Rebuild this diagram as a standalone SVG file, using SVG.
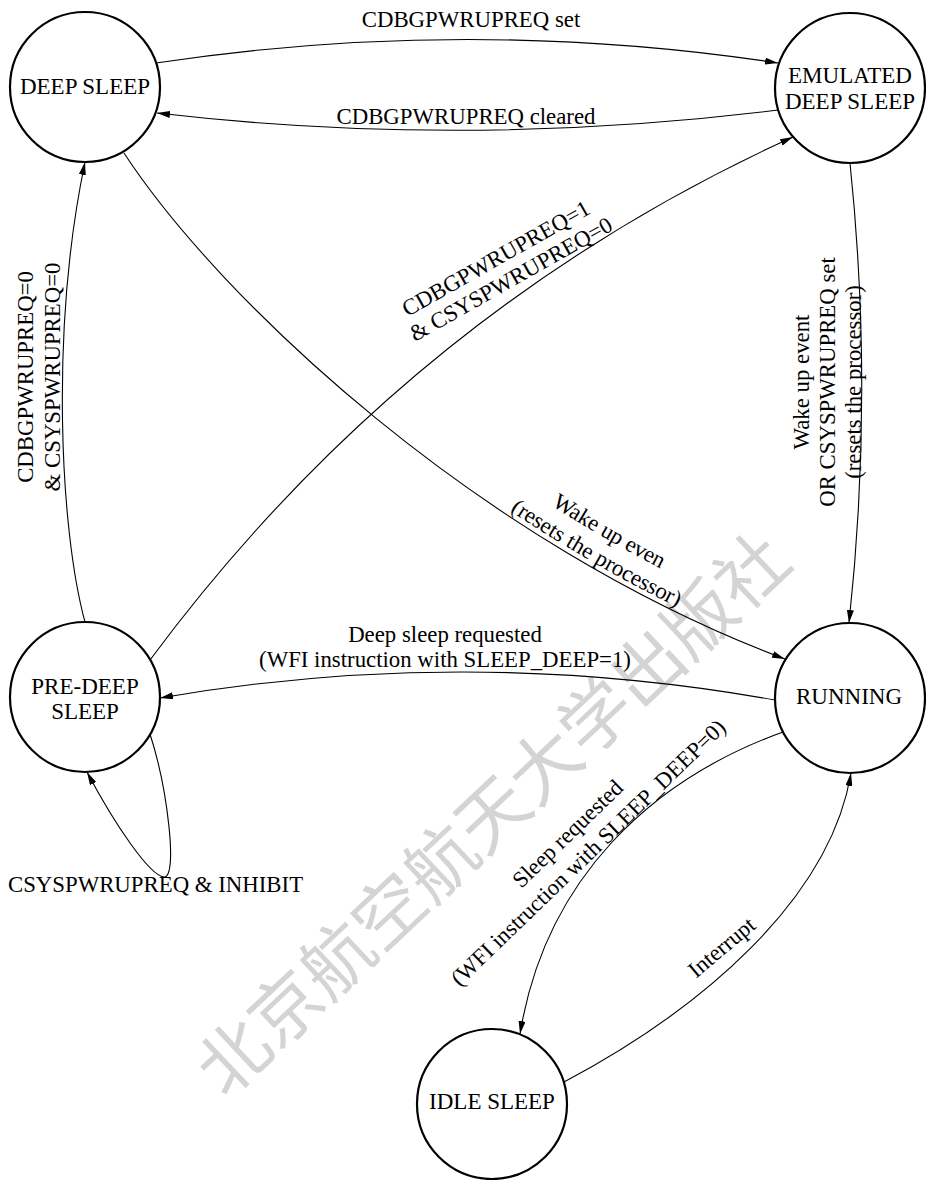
<svg xmlns="http://www.w3.org/2000/svg" xmlns:xlink="http://www.w3.org/1999/xlink" width="926" height="1180" viewBox="0 0 926 1180">
<style>
  .bg { fill: #ffffff; }
  .node circle { fill: #ffffff; stroke: #000000; stroke-width: 2.2; }
  .edge { fill: none; stroke: #000000; stroke-width: 1.1; marker-end: url(#arr); }
  text { font-family: "Liberation Serif", "Times New Roman", serif; fill: #000000; }
  .n { font-size: 23px; text-anchor: middle; }
  .e { font-size: 22.8px; text-anchor: middle; }
  .wm { font-family: "Noto Sans CJK SC", sans-serif; font-weight: 400; font-size: 71px; fill: #d4d4d4; text-anchor: middle; dominant-baseline: central; }
</style>
<defs>
  <marker id="arr" viewBox="0 0 13 7" refX="13" refY="3.5" markerWidth="13" markerHeight="7" orient="auto" markerUnits="userSpaceOnUse">
    <path d="M0,0 L13,3.5 L0,7 z" fill="#000000"/>
  </marker>
</defs>
<rect class="bg" x="0" y="0" width="926" height="1180"/>

<g id="watermark">
  <text class="wm" x="489" y="810" transform="rotate(-43.2 489 810)">北京航空航天大学出版社</text>
</g>

<g id="connectors">
  <path id="eDE" class="edge" d="M156,63 Q468,16 778,63"/>
  <path id="eED" class="edge" d="M778,110 Q466,149 157,113"/>
  <path id="ePD" class="edge" d="M85,622 C60,530 50,330 85,162"/>
  <path id="ePE" class="edge" d="M150,660 Q408,312 793,137"/>
  <path id="eDR" class="edge" d="M124,153 C220,300 480,545 785,659"/>
  <path id="eER" class="edge" d="M850,163 Q874,393 849,623"/>
  <path id="eRP" class="edge" d="M775,700 Q467,645 160,698"/>
  <path id="ePP" class="edge" d="M150,734 C168,790 178,878 164,877 C150,876 115,825 87,772"/>
  <path id="eRI" class="edge" d="M783,732 C650,780 545,880 520,1034"/>
  <path id="eIR" class="edge" d="M564,1082 C700,1010 830,900 851,773"/>
</g>

<g id="edge-labels">
  <text class="e" x="471" y="27">CDBGPWRUPREQ set</text>
  <text class="e" x="466" y="124">CDBGPWRUPREQ cleared</text>
  <g transform="rotate(-90)">
    <text class="e" x="-377" y="33">CDBGPWRUPREQ=0</text>
    <text class="e" x="-377" y="60">&amp; CSYSPWRUPREQ=0</text>
  </g>
  <g transform="translate(503.4,268.8) rotate(-29.5)">
    <text class="e" x="-1.4" y="-5.2">CDBGPWRUPREQ=1</text>
    <text class="e" x="1.4" y="20.3">&amp; CSYSPWRUPREQ=0</text>
  </g>
  <g transform="rotate(-90)">
    <text class="e" x="-382" y="809">Wake up event</text>
    <text class="e" x="-382" y="835">OR CSYSPWRUPREQ set</text>
    <text class="e" x="-382" y="861">(resets the processor)</text>
  </g>
  <text class="e" dy="-32"><textPath href="#eDR" xlink:href="#eDR" startOffset="627">Wake up even</textPath></text>
  <text class="e" dy="-5"><textPath href="#eDR" xlink:href="#eDR" startOffset="627">(resets the processor)</textPath></text>
  <text class="e" x="445" y="642">Deep sleep requested</text>
  <text class="e" x="445" y="667">(WFI instruction with SLEEP_DEEP=1)</text>
  <text class="e" x="155.5" y="892">CSYSPWRUPREQ &amp; INHIBIT</text>
  <g transform="translate(579.2,844.6) rotate(-44)">
    <text class="e" x="-0.8" y="-8.3">Sleep requested</text>
    <text class="e" x="0.8" y="19.6">(WFI instruction with SLEEP_DEEP=0)</text>
  </g>
  <text class="e" x="0" y="0" transform="translate(726.5,953) rotate(-40)">Interrupt</text>
</g>

<g id="node-deep-sleep" class="node">
  <circle cx="85" cy="87" r="75"/>
  <text class="n" x="85" y="94">DEEP SLEEP</text>
</g>
<g id="node-emulated-deep-sleep" class="node">
  <circle cx="850" cy="88" r="75"/>
  <text class="n" x="850" y="83">EMULATED</text>
  <text class="n" x="850" y="109">DEEP SLEEP</text>
</g>
<g id="node-pre-deep-sleep" class="node">
  <circle cx="85" cy="697" r="75"/>
  <text class="n" x="85" y="694">PRE-DEEP</text>
  <text class="n" x="85" y="719">SLEEP</text>
</g>
<g id="node-running" class="node">
  <circle cx="850" cy="698" r="75"/>
  <text class="n" x="849" y="704">RUNNING</text>
</g>
<g id="node-idle-sleep" class="node">
  <circle cx="492" cy="1104" r="75"/>
  <text class="n" x="492" y="1109">IDLE SLEEP</text>
</g>
</svg>
